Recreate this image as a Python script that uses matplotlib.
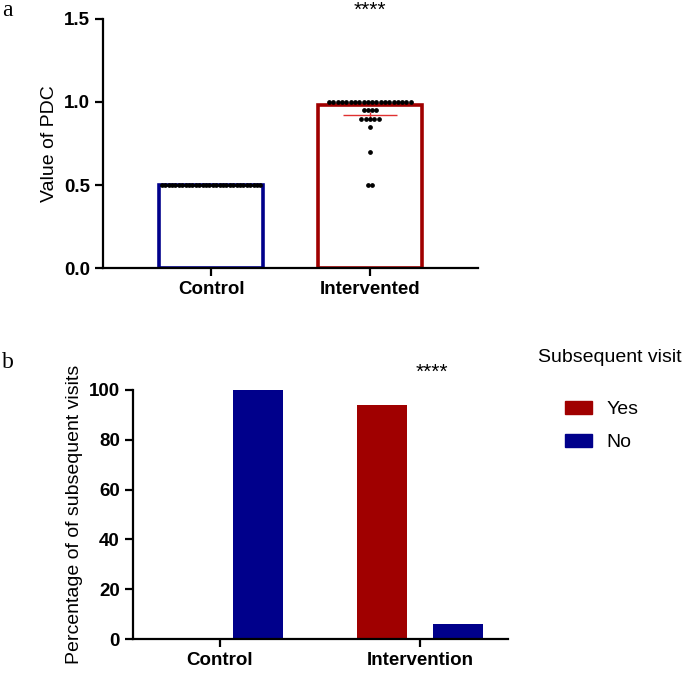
import numpy as np
import matplotlib.pyplot as plt
from matplotlib.patches import Patch

plt.rcParams['font.family'] = ['Liberation Sans', 'DejaVu Sans']

# panel a: PDC values
groups_a = ['Control', 'Intervented']
bar_a = [0.5, 0.98]
control_pdc = [0.5] * 30
intervened_pdc = [1.0] * 20 + [0.95] * 4 + [0.90] * 5 + [0.85, 0.70, 0.50, 0.50]
intervened_mean = 0.92
intervened_sem = 0.02

# panel b: subsequent visits (%)
groups_b = ['Control', 'Intervention']
visit_yes = [0, 94]
visit_no = [100, 6]

blue = '#00008b'
red = '#a00000'


def swarm_x(values, center, step=0.027, max_width=0.62):
    # simple beeswarm: identical values spread side by side
    xs = np.zeros(len(values))
    vals = np.array(values)
    for v in np.unique(vals):
        idx = np.where(vals == v)[0]
        n = len(idx)
        s = step
        if (n - 1) * s > max_width:
            s = max_width / (n - 1)
        xs[idx] = center + (np.arange(n) - (n - 1) / 2) * s
    return xs


fig = plt.figure(figsize=(6.85, 6.83), dpi=100)

# ---------- panel a ----------
ax1 = fig.add_axes([0.1504, 0.6076, 0.5474, 0.3646])
x = np.arange(len(groups_a))
ax1.bar(x, bar_a, width=0.65, facecolor='white', edgecolor=[blue, red], linewidth=2.6, zorder=2)
ax1.plot(swarm_x(control_pdc, 0, max_width=0.62), control_pdc, 'o', color='black', ms=2.4, zorder=4)
ax1.plot(swarm_x(intervened_pdc, 1), intervened_pdc, 'o', color='black', ms=2.4, zorder=4)
ax1.hlines(intervened_mean, 1 - 0.17, 1 + 0.17, color='#e03030', lw=1.0, zorder=3)
ax1.vlines(1, intervened_mean - intervened_sem, intervened_mean + intervened_sem,
           color='#e03030', lw=1.0, zorder=3)
ax1.set_xlim(-0.68, 1.68)
ax1.set_ylim(0, 1.5)
ax1.set_yticks([0, 0.5, 1.0, 1.5])
ax1.set_yticklabels(['0.0', '0.5', '1.0', '1.5'])
ax1.set_xticks(x)
ax1.set_xticklabels(groups_a)
ax1.set_ylabel('Value of PDC', fontsize=14)
ax1.text(1, 1.608, '****', ha='center', va='top', fontsize=15, clip_on=False)

# ---------- panel b ----------
ax2 = fig.add_axes([0.1942, 0.0644, 0.5474, 0.3646])
xb = np.arange(len(groups_b))
ax2.bar(xb - 0.19, visit_yes, width=0.25, color=red, label='Yes', zorder=2)
ax2.bar(xb + 0.19, visit_no, width=0.25, color=blue, label='No', zorder=2)
ax2.set_xlim(-0.435, 1.44)
ax2.set_ylim(0, 100)
ax2.set_yticks([0, 20, 40, 60, 80, 100])
ax2.set_xticks(xb)
ax2.set_xticklabels(groups_b)
ax2.set_ylabel('Percentage of of subsequent visits', fontsize=14)
ax2.text(1.06, 110.8, '****', ha='center', va='top', fontsize=15, clip_on=False)
handles = [Patch(color=red, label='Yes'), Patch(color=blue, label='No')]
leg = ax2.legend(handles=handles, loc='upper left',
                 bbox_to_anchor=(0.8248, 0.413), bbox_transform=fig.transFigure,
                 frameon=False, fontsize=14, borderpad=0, borderaxespad=0,
                 handlelength=1.4, handleheight=0.67, labelspacing=0.78,
                 handletextpad=0.75)
fig.text(0.785, 0.4773, 'Subsequent visit', fontsize=14, va='center', ha='left')

for ax in (ax1, ax2):
    for side in ('top', 'right'):
        ax.spines[side].set_visible(False)
    for side in ('left', 'bottom'):
        ax.spines[side].set_linewidth(1.6)
    ax.tick_params(width=1.6, length=6, labelsize=13.5)
    for lab in ax.get_xticklabels() + ax.get_yticklabels():
        lab.set_fontweight('bold')

fig.text(0.003, 0.976, 'a', family='Liberation Serif', fontsize=17, va='baseline')
fig.text(0.003, 0.4612, 'b', family='Liberation Serif', fontsize=17, va='baseline')

fig.savefig('out.png', dpi=100)
